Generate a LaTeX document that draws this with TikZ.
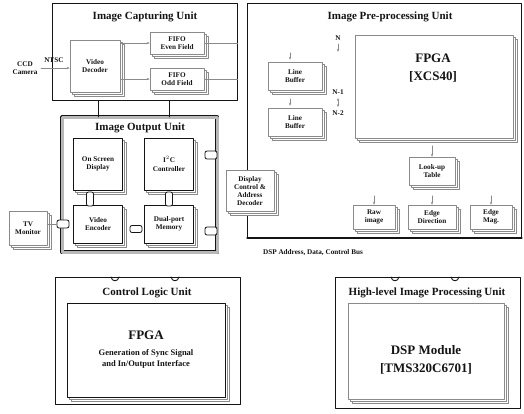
\documentclass[tikz,border=0pt]{standalone}
\usepackage{fontspec}
\setmainfont{Liberation Serif}
\usetikzlibrary{arrows.meta,calc,positioning,shadows}
\definecolor{scanInk}{HTML}{141414}
\definecolor{scanGray}{HTML}{8A8A8A}
\definecolor{scanLight}{HTML}{B8B8B8}

\begin{document}
\begin{tikzpicture}[x=1pt,y=-1pt,>={Stealth[length=3pt]},line cap=round,line join=round]
\path[fill=white] (0,0) rectangle (524,413);
\tikzset{unitbox/.style={draw=scanInk,line width=0.9pt,anchor=north west,inner sep=0pt},outerbox/.style={draw=scanInk,line width=0.6pt,double=scanLight,double distance=2.6pt,anchor=north west,inner sep=0pt},ttl/.style={text=scanInk,font=\bfseries\fontsize{11}{13}\selectfont},lbl/.style={text=scanInk,align=center,font=\bfseries\fontsize{7.2}{8.2}\selectfont},big/.style={text=scanInk,align=center,font=\bfseries\fontsize{13}{18}\selectfont},blk/.style={draw=scanGray,fill=white,line width=0.5pt,inner sep=1pt,lbl,copy shadow={shadow xshift=4pt,shadow yshift=-4pt,draw=scanGray,fill=white,line width=0.5pt},copy shadow={shadow xshift=2pt,shadow yshift=-2pt,draw=scanGray,fill=white,line width=0.5pt}},solidblk/.style={blk,draw=scanInk,line width=0.8pt},plug/.style={draw=scanInk,fill=white,line width=0.8pt,rounded corners=2pt,inner sep=0pt},conn/.style={draw=scanGray,line width=0.5pt},tinyarrow/.style={draw=scanGray,line width=0.4pt},unitline/.style={draw=scanInk,line width=0.9pt}}
% capturing unit
\node[unitbox,minimum width=185,minimum height=97] (cap) at (52,3) {};
\node[ttl] (capttl) at (145,17) {Image Capturing Unit};
\node[blk,minimum width=50,minimum height=52] (dec) at (95,66) {Video\\Decoder};
\node[blk,minimum width=54,minimum height=22] (fifoe) at (177,43) {FIFO\\Even Field};
\node[blk,minimum width=54,minimum height=22] (fifoo) at (177,79) {FIFO\\Odd Field};
\node[lbl] (ccd) at (25,68) {CCD\\Camera};
\draw[conn,->] (ccd.east) -- (dec.west |- ccd.east) node[lbl,pos=0.45,above=2pt] (ntsc) {NTSC};
\draw[conn,->] (dec.east |- fifoe) -- (fifoe.west); \draw[conn,->] (dec.east |- fifoo) -- (fifoo.west);
\draw[conn] (fifoe.east) -- (fifoe.east -| cap.east); \draw[conn] (fifoo.east) -- (fifoo.east -| cap.east);
% pre-processing unit
\node[unitbox,minimum width=274,minimum height=234] (pre) at (247,3) {};
\node[ttl] (prettl) at (390,17) {Image Pre-processing Unit};
\node[blk,minimum width=158,minimum height=103] (fpga) at (434,87) {};
\node[big] (fpgatxt) at (433,68) {FPGA\\{}[XCS40]};
\node[blk,minimum width=54,minimum height=28] (lbuf1) at (295,76) {Line\\Buffer};
\node[blk,minimum width=54,minimum height=28] (lbuf2) at (295,122) {Line\\Buffer};
\node[lbl] (rowN) at (338,38) {N}; \node[lbl] (rowNa) at (338,92) {N-1}; \node[lbl] (rowNb) at (338,113) {N-2};
\draw[tinyarrow,->] (rowN.south) -- ++(0,8); \draw[tinyarrow,<->] (rowNa.south) -- (rowNb.north);
\foreach \b in {lbuf1,lbuf2} {\draw[tinyarrow,->] ($(\b.north)+(-5,-9)$) -- ($(\b.north)+(-5,-2)$);}
\node[blk,minimum width=46,minimum height=28] (lut) at (432,171) {Look-up\\Table};
\draw[tinyarrow,->] ($(fpga.south -| lut)+(0,7)$) -- (lut.north);
\node[blk,minimum width=42,minimum height=24] (rawimg) at (374,217) {Raw\\image};
\node[blk,minimum width=48,minimum height=24] (edgedir) at (432,217) {Edge\\Direction};
\node[blk,minimum width=42,minimum height=24] (edgemag) at (491,217) {Edge\\Mag.};
\foreach \b in {rawimg,edgedir,edgemag} {\draw[tinyarrow,->] ($(\b.north)+(0,-9)$) -- (\b.north);}
\node[blk,minimum width=48,minimum height=41] (disp) at (250,191) {Display\\Control \&\\Address\\Decoder};
\draw[line width=1.3pt,draw=scanInk] (pre.south west) -- (pre.south east);
\node[lbl] (busttl) at (313,253) {DSP Address, Data, Control Bus};
% output unit
\node[outerbox,minimum width=155,minimum height=135] (out) at (62,117) {};
\node[ttl] (outttl) at (140,128) {Image Output Unit};
\node[solidblk,minimum width=49,minimum height=52] (osd) at (98,164) {On Screen\\Display};
\node[solidblk,minimum width=49,minimum height=52] (i2c) at (169,164) {I$^2$C\\Controller};
\node[solidblk,minimum width=49,minimum height=38] (venc) at (98,224) {Video\\Encoder};
\node[solidblk,minimum width=49,minimum height=38] (dpm) at (169,224) {Dual-port\\Memory};
\node[plug,minimum width=7,minimum height=14] (plugA) at (90,199) {};
\node[plug,minimum width=7,minimum height=14] (plugB) at (169,199) {};
\node[plug,minimum width=12,minimum height=7] (plugC) at (136,229) {};
\node[plug,minimum width=12,minimum height=8] (plugD) at (211,155) {};
\node[plug,minimum width=12,minimum height=8] (plugE) at (211,231) {};
\node[plug,minimum width=12,minimum height=8] (plugF) at (63,224) {};
\draw[unitline] (cap.south -| osd) -- (out.north -| osd); \draw[unitline] (cap.south -| i2c) -- (out.north -| i2c);
\node[blk,minimum width=38,minimum height=34] (tvmon) at (28,228) {TV\\Monitor};
\draw[conn] (tvmon.east |- plugF) -- (plugF.west);
% control logic unit
\node[unitbox,minimum width=185,minimum height=127] (ctl) at (55,277) {};
\node[ttl] (ctlttl) at (147,293) {Control Logic Unit};
\node[solidblk,minimum width=158,minimum height=94] (cfpga) at (146,350) {};
\node[big] (cfpgatxt) at (146,335) {FPGA};
\node[lbl,font=\bfseries\fontsize{8.5}{10.5}\selectfont] (cfpgasub) at (146,359) {Generation of Sync Signal\\and In/Output Interface};
\foreach \nx in {115,175} {\draw[unitline] (\nx-4,277) .. controls (\nx-3,282) and (\nx+3,282) .. (\nx+4,277);}
% high-level unit
\node[unitbox,minimum width=185,minimum height=131] (hl) at (335,277) {};
\node[ttl] (hlttl) at (427,293) {High-level Image Processing Unit};
\node[blk,minimum width=156,minimum height=96] (dsp) at (426,351) {};
\node[big] (dsptxt) at (426,360) {DSP Module\\{}[TMS320C6701]};
\foreach \nx in {395,455} {\draw[unitline] (\nx-4,277) .. controls (\nx-3,282) and (\nx+3,282) .. (\nx+4,277);}
\end{tikzpicture}
\end{document}
